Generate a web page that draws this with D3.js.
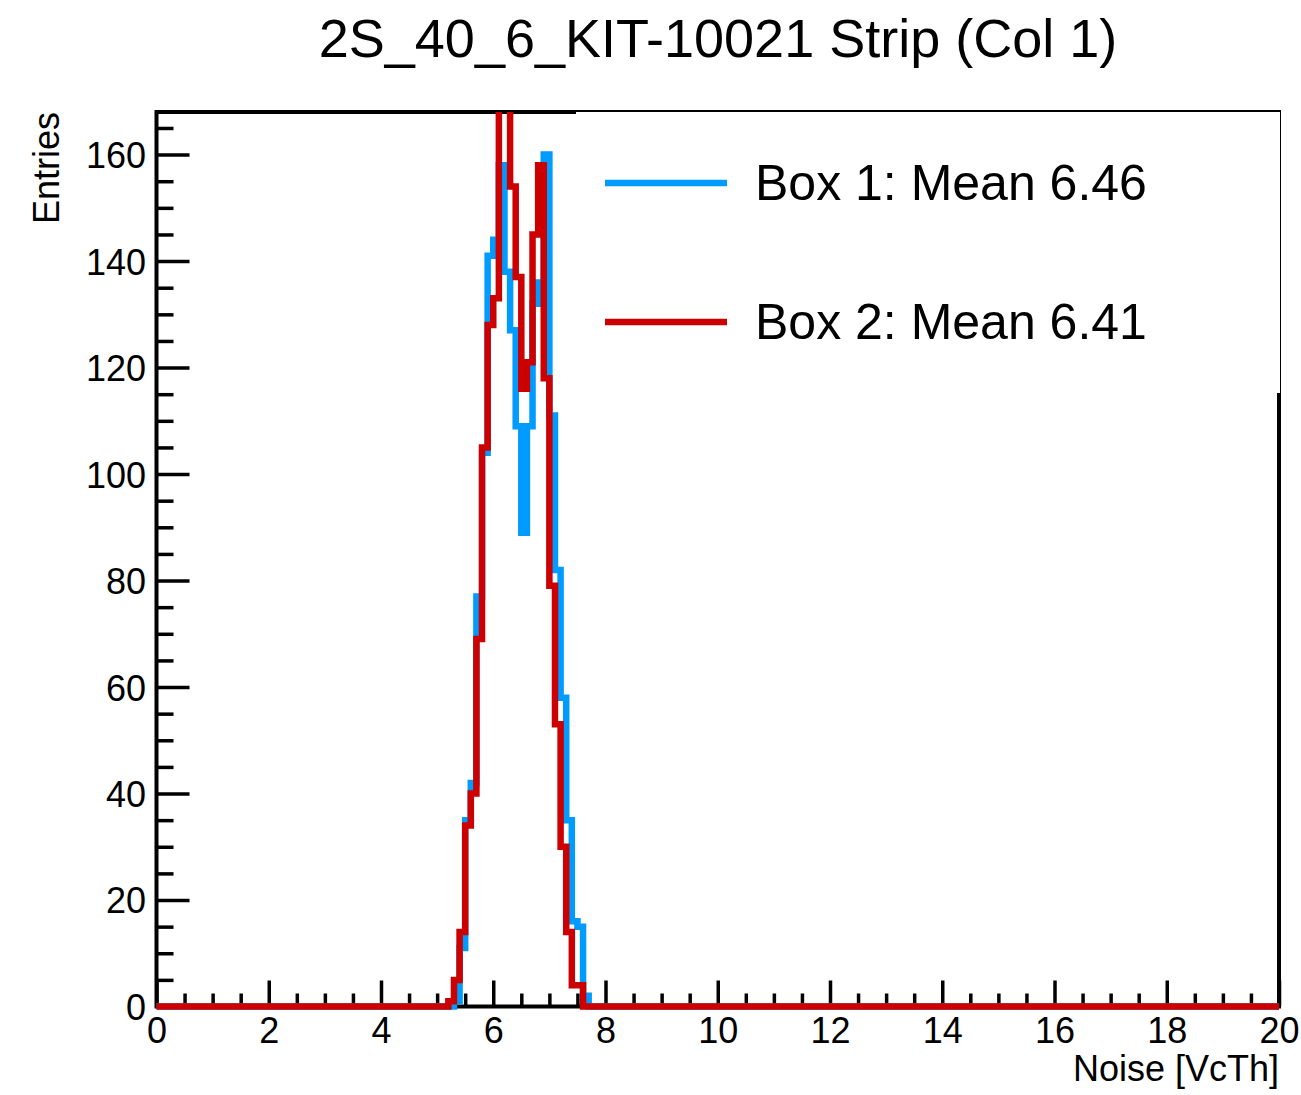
<!DOCTYPE html>
<html><head><meta charset="utf-8">
<script src="https://cdn.jsdelivr.net/npm/d3@7"></script>
<style>body{margin:0;background:#fff}</style>
</head><body>
<script>
// ---------------- data ----------------
const chartTitle = "2S_40_6_KIT-10021 Strip (Col 1)";
const xAxisTitle = "Noise [VcTh]";
const yAxisTitle = "Entries";
const binWidth = 0.1;          // histogram bin width
const xRange = [0, 20];
const yRange = [0, 168];
const firstListedBinLow = 5.2; // low edge of the first listed bin; all other bins are empty
const box1Counts = [0, 1, 11, 35, 42, 77, 104, 141, 144, 158, 138, 127, 109, 89, 109, 132, 136, 160, 111, 82, 58, 35, 16, 15, 2, 0];
const box2Counts = [1, 5, 14, 34, 40, 69, 105, 128, 133, 184, 186, 154, 137, 116, 121, 145, 158, 118, 79, 53, 30, 14, 4, 4, 0, 0];
const seriesLabels = ["Box 1: Mean 6.46", "Box 2: Mean 6.41"];
const seriesColors = ["#009bff", "#cc0000"];
const xMajorTicks = [0, 2, 4, 6, 8, 10, 12, 14, 16, 18, 20];
const yMajorTicks = [0, 20, 40, 60, 80, 100, 120, 140, 160];
const xMinorStep = 0.5;
const yMinorStep = 5;

// ---------------- layout ----------------
const W = 1301, H = 1095;
const L = 156.5, R = 1279, T = 112, B = 1006.5;
const font = "'Liberation Sans', Arial, Helvetica, sans-serif";

const svg = d3.select("body").append("svg").attr("width", W).attr("height", H)
  .style("font-family", font);

const x = d3.scaleLinear().domain(xRange).range([L, R]);
const y = d3.scaleLinear().domain(yRange).range([B, T]);

// minor ticks (built from the axis ranges)
const xMinor = d3.range(xRange[0], xRange[1] + 1e-9, xMinorStep).filter(v => !xMajorTicks.includes(v));
const yMinor = d3.range(yRange[0], yRange[1] + 1e-9, yMinorStep).filter(v => !yMajorTicks.includes(v));

// frame
const frame = svg.append("g");
frame.append("rect").attr("x", L).attr("y", T).attr("width", R - L).attr("height", B - T)
  .attr("fill", "none").attr("stroke", "#000").attr("stroke-width", 4);

// axes
const gx = svg.append("g").attr("transform", `translate(0,${B})`)
  .call(d3.axisBottom(x).tickValues(xMajorTicks).tickSize(-26).tickPadding(11).tickFormat(d3.format("d")));
const gxm = svg.append("g").attr("transform", `translate(0,${B})`)
  .call(d3.axisBottom(x).tickValues(xMinor).tickSize(-13).tickFormat(""));
const gy = svg.append("g").attr("transform", `translate(${L},0)`)
  .call(d3.axisLeft(y).tickValues(yMajorTicks).tickSize(-33).tickPadding(10.5).tickFormat(d3.format("d")));
const gym = svg.append("g").attr("transform", `translate(${L},0)`)
  .call(d3.axisLeft(y).tickValues(yMinor).tickSize(-17).tickFormat(""));
[gx, gxm, gy, gym].forEach(g => {
  g.select(".domain").remove();
  g.selectAll(".tick line").attr("stroke", "#000").attr("stroke-width", 3.5);
  g.selectAll("text").attr("font-size", 36).attr("font-family", font).attr("fill", "#000");
});
gy.selectAll("text").attr("dy", "0.36em");

// axis titles
svg.append("text").attr("x", R).attr("y", 1081).attr("text-anchor", "end")
  .attr("font-size", 36).text(xAxisTitle);
svg.append("text").attr("transform", `translate(59,${T}) rotate(-90)`).attr("text-anchor", "end")
  .attr("font-size", 36).text(yAxisTitle);

// histograms
svg.append("clipPath").attr("id", "clip").append("rect")
  .attr("x", L - 5).attr("y", T).attr("width", R - L + 5).attr("height", B - T + 20);

const nBins = Math.round((xRange[1] - xRange[0]) / binWidth);
const offset = Math.round((firstListedBinLow - xRange[0]) / binWidth);
function fullBins(counts) {
  const arr = new Array(nBins).fill(0);
  counts.forEach((c, i) => { arr[offset + i] = c; });
  return arr;
}
function stepPoints(arr) {
  const pts = arr.map((v, k) => [xRange[0] + k * binWidth, v]);
  pts.push([xRange[1], arr[arr.length - 1]]);
  return pts;
}
const line = d3.line().x(d => x(d[0])).y(d => y(d[1])).curve(d3.curveStepAfter);
const hg = svg.append("g").attr("clip-path", "url(#clip)");
[box1Counts, box2Counts].forEach((c, i) => {
  hg.append("path").attr("d", line(stepPoints(fullBins(c))))
    .attr("fill", "none").attr("stroke", seriesColors[i]).attr("stroke-width", 6.5)
    .attr("stroke-linejoin", "miter").attr("stroke-linecap", "butt");
});

// legend
const lg = svg.append("g");
const lx0 = 576, lx1 = 1281, ly0 = 111, ly1 = 393;
lg.append("rect").attr("x", lx0).attr("y", ly0).attr("width", lx1 - lx0).attr("height", ly1 - ly0).attr("fill", "#fff");
lg.append("line").attr("x1", lx0).attr("x2", lx1).attr("y1", ly0 + 0.5).attr("y2", ly0 + 0.5).attr("stroke", "#000").attr("stroke-width", 1);
lg.append("line").attr("x1", lx1 - 0.5).attr("x2", lx1 - 0.5).attr("y1", ly0).attr("y2", ly1).attr("stroke", "#000").attr("stroke-width", 1);
const entryY = [183, 322];
seriesLabels.forEach((s, i) => {
  lg.append("line").attr("x1", 605).attr("x2", 727).attr("y1", entryY[i]).attr("y2", entryY[i])
    .attr("stroke", seriesColors[i]).attr("stroke-width", 6.5);
  lg.append("text").attr("x", 755).attr("y", entryY[i] + 17).attr("font-size", 50).text(s);
});

// title
svg.append("text").attr("x", 718).attr("y", 57).attr("text-anchor", "middle")
  .attr("font-size", 54).text(chartTitle);
</script>
</body></html>
